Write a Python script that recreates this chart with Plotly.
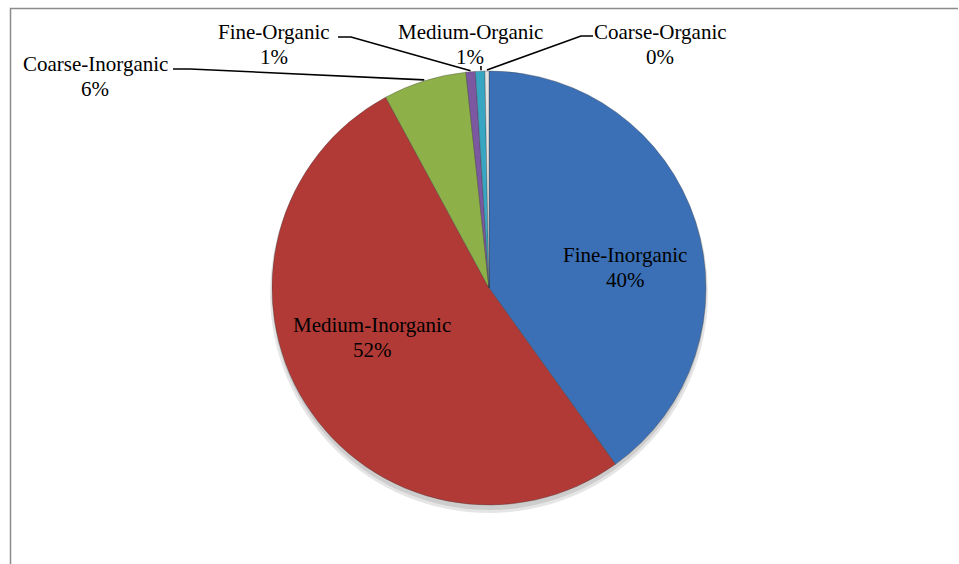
import math
import plotly.graph_objects as go

# Particle-size / composition shares (percent)
categories = ["Fine-Inorganic", "Medium-Inorganic", "Coarse-Inorganic",
              "Fine-Organic", "Medium-Organic", "Coarse-Organic"]
shares = [40.1, 52.0, 6.2, 0.7, 0.7, 0.3]
colors = ["#3B70B6", "#B13A37", "#8DB048", "#7B58A0", "#38A6C3", "#E4E4E4"]

W, H = 959, 564
cx, cy, r = 489, 288, 217  # pie centre and radius in pixels

dom_x = [(cx - r) / W, (cx + r) / W]
dom_y = [(H - cy - r) / H, (H - cy + r) / H]

fig = go.Figure()

# soft drop shadow under the pie
fig.add_shape(type="circle", xref="paper", yref="paper",
              x0=(cx - r - 2) / W, x1=(cx + r + 2) / W,
              y0=(H - cy - r - 8) / H, y1=(H - cy + r - 2) / H,
              fillcolor="rgba(0,0,0,0.10)", line_width=0, layer="below")
fig.add_shape(type="circle", xref="paper", yref="paper",
              x0=(cx - r) / W, x1=(cx + r) / W,
              y0=(H - cy - r - 5) / H, y1=(H - cy + r - 2) / H,
              fillcolor="rgba(0,0,0,0.10)", line_width=0, layer="below")

fig.add_trace(go.Pie(
    labels=categories, values=shares, sort=False, direction="clockwise",
    rotation=0, marker=dict(colors=colors, line=dict(color="rgba(60,60,60,0.35)", width=1)),
    textinfo="none", hoverinfo="label+percent", showlegend=False,
    domain=dict(x=dom_x, y=dom_y),
))

total = sum(shares)
pct = [round(v / total * 100) for v in shares]


def edge_point(idx, rad):
    """Pixel point on the mid-angle of slice idx at distance rad from centre."""
    start = sum(shares[:idx]) / total
    mid = (start + shares[idx] / total / 2) * 2 * math.pi
    return cx + rad * math.sin(mid), cy - rad * math.cos(mid)


def px(x, y):
    return x / W, (H - y) / H


font = dict(family="Liberation Serif, Times New Roman, serif", size=21, color="#000")

# label positions: (centre x, centre y of first line) in pixels; second line 25 px lower
label_pos = {
    0: (625, 255),
    1: (372, 325),
    2: (95, 64),
    3: (274, 32),
    4: (470, 32),
    5: (660, 32),
}
for i, (tx, ty) in label_pos.items():
    for line, dy in ((categories[i], 0), (f"{pct[i]}%", 25)):
        x, y = px(tx, ty + dy)
        fig.add_annotation(x=x, y=y, xref="paper", yref="paper",
                           text=line, showarrow=False, font=font,
                           xanchor="center", yanchor="middle")

# leader lines: text elbow -> slice edge
leaders = {
    2: [(173, 69), (190, 69)],
    3: [(338, 37), (351, 37)],
    4: [(481, 66)],
    5: [(593, 36), (581, 36)],
}
for i, pts in leaders.items():
    ex, ey = edge_point(i, r + 1)
    if i == 4:
        ex = pts[0][0]
    path_pts = pts + [(ex, ey)]
    d = "M " + " L ".join(f"{px(a, b)[0]:.5f},{px(a, b)[1]:.5f}" for a, b in path_pts)
    fig.add_shape(type="path", xref="paper", yref="paper", path=d,
                  line=dict(color="#000", width=1.6))

# chart-area border (top and left edges visible)
fig.add_shape(type="path", xref="paper", yref="paper",
              path=f"M {px(10.5, 570)[0]},{px(10.5, 570)[1]} L {px(10.5, 8.5)[0]},{px(10.5, 8.5)[1]} "
                   f"L {px(958, 8.5)[0]},{px(958, 8.5)[1]}",
              line=dict(color="#8C8C8C", width=1.5))

fig.update_layout(
    width=W, height=H, margin=dict(l=0, r=0, t=0, b=0),
    paper_bgcolor="white", plot_bgcolor="white",
)

fig.write_html("out.html")
